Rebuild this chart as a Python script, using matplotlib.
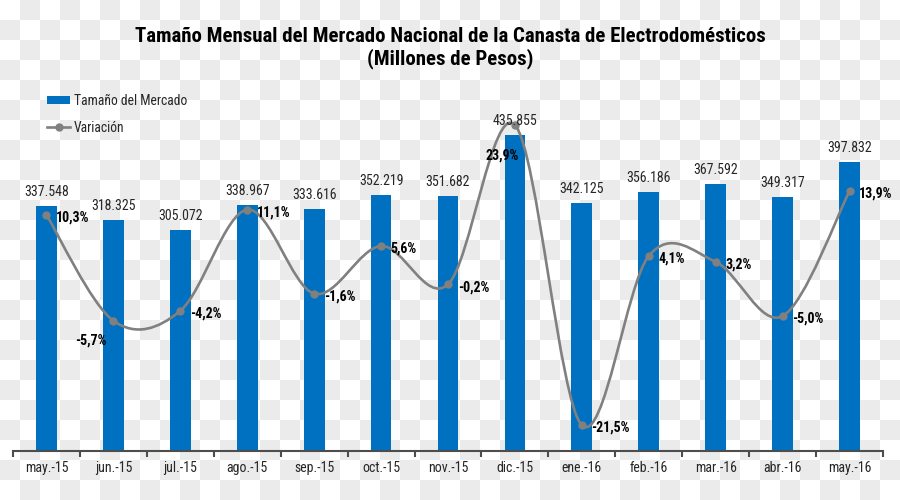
import numpy as np
import matplotlib
matplotlib.use("Agg")
import matplotlib.pyplot as plt
from matplotlib import font_manager
from matplotlib.path import Path
from matplotlib.patches import PathPatch, Patch
from matplotlib.lines import Line2D

#### data
meses = ["may.-15", "jun.-15", "jul.-15", "ago.-15", "sep.-15", "oct.-15", "nov.-15",
         "dic.-15", "ene.-16", "feb.-16", "mar.-16", "abr.-16", "may.-16"]
mercado = [337.548, 318.325, 305.072, 338.967, 333.616, 352.219, 351.682,
           435.855, 342.125, 356.186, 367.592, 349.317, 397.832]
variacion = [10.3, -5.7, -4.2, 11.1, -1.6, 5.6, -0.2, 23.9, -21.5, 4.1, 3.2, -5.0, 13.9]

titulo = "Tamaño Mensual del Mercado Nacional de la Canasta de Electrodomésticos\n(Millones de Pesos)"

#### fonts: look for a narrow sans with a real bold (Arial Narrow look)
pesos = {}
for f in font_manager.fontManager.ttflist:
    pesos.setdefault(f.name, set()).add(f.weight if isinstance(f.weight, int) else 400)
fuente = "Liberation Sans"
for cand in ["Liberation Sans Narrow", "Arial Narrow", "Roboto Condensed", "Archivo Narrow",
             "PT Sans Narrow", "Sofia Sans Condensed", "Asap Condensed"]:
    w = pesos.get(cand, set())
    if 400 in w and any(x >= 600 for x in w):
        fuente = cand
        break
plt.rcParams["font.family"] = [fuente, "DejaVu Sans"]

AZUL = "#0070C0"
GRIS = "#808080"


def fmt_pct(v):
    return f"{v:.1f}%".replace(".", ",")


def curva_suave(xs, ys):
    ## excel-like smooth line: catmull-rom as cubic bezier segments
    pts = np.column_stack([xs, ys]).astype(float)
    ext = np.vstack([pts[0], pts, pts[-1]])
    verts = [pts[0]]
    codes = [Path.MOVETO]
    for i in range(len(pts) - 1):
        p0, p1, p2, p3 = ext[i], ext[i + 1], ext[i + 2], ext[i + 3]
        c1 = p1 + (p2 - p0) / 6.0
        c2 = p2 - (p3 - p1) / 6.0
        verts += [c1, c2, p2]
        codes += [Path.CURVE4] * 3
    return Path(verts, codes)


fig = plt.figure(figsize=(9, 5), dpi=100)
fig.patch.set_alpha(0)

## checkered background (transparency pattern of the reference)
yy, xx = np.mgrid[0:500, 0:900]
cuadro = ((xx // 20 + yy // 20) % 2).astype(float)
fondo = np.ones((500, 900, 3))
fondo[cuadro == 1] = 0.922
fig.figimage(fondo, 0, 0, zorder=-10)

ax = fig.add_axes([13 / 900, 1 - 451 / 500, 870 / 900, 363 / 500])
ax.patch.set_alpha(0)
x = np.arange(len(meses))

ax.bar(x, mercado, width=0.31, color=AZUL, zorder=2)
ax.set_xlim(-0.5, len(meses) - 0.5)
ax.set_ylim(0, 500)

for s in ["top", "right", "left"]:
    ax.spines[s].set_visible(False)
ax.spines["bottom"].set_color("#4d4d4d")
ax.spines["bottom"].set_linewidth(1.5)
ax.set_yticks([])
ax.set_xticks(np.arange(-0.5, len(meses), 1.0))
ax.set_xticklabels([])
ax.tick_params(axis="x", which="major", length=4, width=1.5, color="#4d4d4d", direction="out")
ax.set_xticks(x, minor=True)
ax.set_xticklabels(meses, minor=True, fontsize=10, color="#262626")
ax.tick_params(axis="x", which="minor", length=0, pad=7)

## secondary axis for the variation line
ax2 = ax.twinx()
ax2.set_ylim(-25.4, 29.5)
ax2.set_yticks([])
for s in ax2.spines.values():
    s.set_visible(False)

ax2.add_patch(PathPatch(curva_suave(x, variacion), facecolor="none", edgecolor=GRIS,
                        linewidth=1.9, zorder=3, capstyle="round"))
ax2.plot(x, variacion, linestyle="none", marker="o", markersize=5, color=GRIS, zorder=4)

## bar value labels
for xi, v in zip(x, mercado):
    ax2.annotate(f"{v:.3f}", xy=(xi, v), xycoords=ax.transData, xytext=(0, 5),
                 textcoords="offset points", ha="center", va="bottom",
                 fontsize=10, color="#262626", zorder=5)

## percent labels, most sit to the right of the point
pos_pct = {1: (-16, -14, "center"), 7: (-9, -22, "center")}
for i, v in enumerate(variacion):
    dx, dy, ha = pos_pct.get(i, (7, -2, "left"))
    ax2.annotate(fmt_pct(v), xy=(i, v), xytext=(dx, dy), textcoords="offset points",
                 ha=ha, va="center", fontsize=10, fontweight="bold", color="black", zorder=5)

fig.text(0.5, 1 - 48 / 500, titulo, ha="center", va="center", fontsize=15,
         fontweight="bold", linespacing=1.2)

h_bar = Patch(facecolor=AZUL)
h_lin = Line2D([], [], color=GRIS, linewidth=1.9, marker="o", markersize=5)
fig.legend([h_bar, h_lin], ["Tamaño del Mercado", "Variación"],
           loc="upper left", bbox_to_anchor=(47 / 900, 1 - 94 / 500), frameon=False,
           fontsize=9.8, handlelength=1.7, handleheight=0.55, handletextpad=0.25,
           labelspacing=0.95, borderaxespad=0, borderpad=0, labelcolor="#262626")

fig.savefig("out.png", dpi=100)
